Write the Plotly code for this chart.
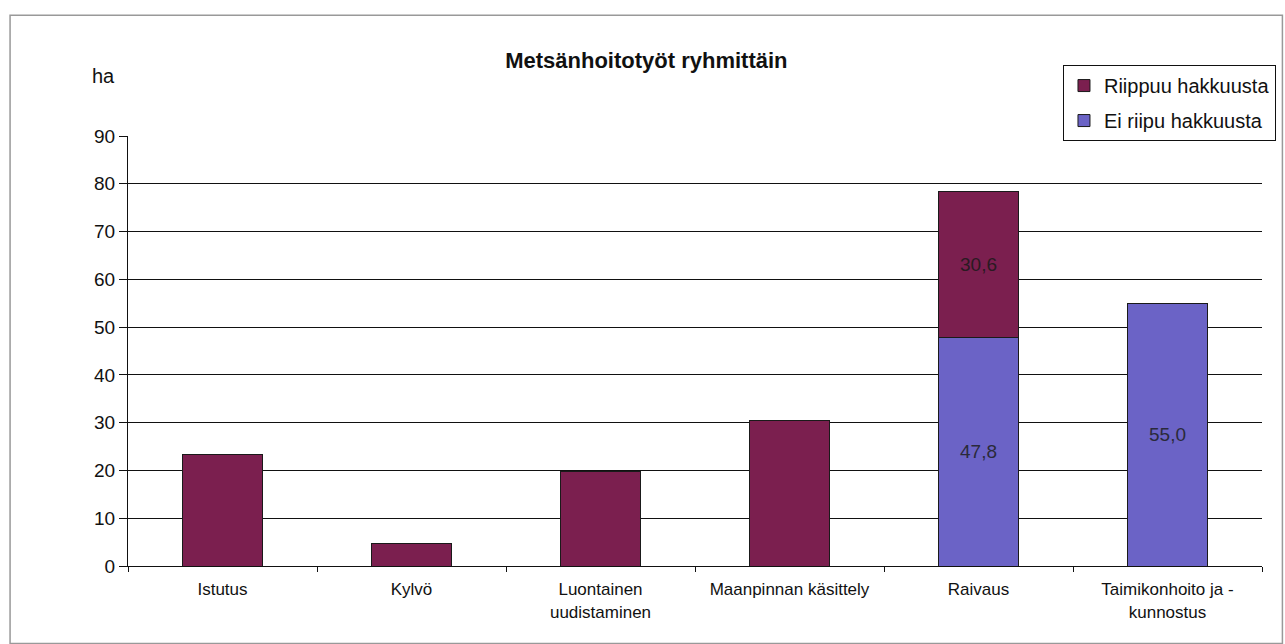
import plotly.graph_objects as go

categories = ["Istutus", "Kylvö", "Luontainen<br>uudistaminen", "Maanpinnan käsittely",
              "Raivaus", "Taimikonhoito ja -<br>kunnostus"]
ei_riipu = [0, 0, 0, 0, 47.8, 55.0]
riippuu = [23.3, 4.8, 19.8, 30.5, 30.6, 0]
y_ticks = [0, 10, 20, 30, 40, 50, 60, 70, 80, 90]

FONT = "Liberation Sans, Arial, sans-serif"

def labels(vals, flags):
    return [f"{v:.1f}".replace(".", ",") if (f and v > 0) else "" for v, f in zip(vals, flags)]

fig = go.Figure()
fig.add_trace(go.Bar(
    x=categories, y=ei_riipu, name="Ei riipu hakkuusta", legendgroup="ei", legendrank=2,
    marker=dict(color="#6b63c6", line=dict(color="#1a1a1a", width=1)),
    text=labels(ei_riipu, [False, False, False, False, True, True]),
    textposition="inside", insidetextanchor="middle",
    textfont=dict(family=FONT, size=19, color="#2a2a3a"),
))
fig.add_trace(go.Bar(
    x=categories, y=riippuu, name="Riippuu hakkuusta", legendgroup="riippuu", legendrank=1,
    marker=dict(color="#7b1f4f", line=dict(color="#1a1a1a", width=1)),
    text=labels(riippuu, [False, False, False, False, True, False]),
    textposition="inside", insidetextanchor="middle",
    textfont=dict(family=FONT, size=19, color="#2a1a22"),
))

fig.update_layout(
    width=1285, height=644,
    barmode="stack", bargap=0.58,
    separators=", ",
    plot_bgcolor="white", paper_bgcolor="white",
    margin=dict(l=128, r=23, t=136, b=78, autoexpand=False),
    font=dict(family=FONT, size=14, color="#111"),
    title=dict(text="<b>Metsänhoitotyöt ryhmittäin</b>", x=0.503, xanchor="center",
               y=0.907, yanchor="middle", font=dict(family=FONT, size=22, color="#111")),
    showlegend=True,
    legend=dict(x=0.8245, y=1.165, xanchor="left", yanchor="top",
                bordercolor="#111", borderwidth=1, bgcolor="white",
                font=dict(family=FONT, size=20, color="#111"),
                traceorder="grouped", tracegroupgap=6, itemwidth=30),
    xaxis=dict(showline=True, linecolor="#111", linewidth=1, ticks="outside",
               tickson="boundaries", ticklen=5, tickcolor="#111", ticklabelstandoff=8,
               tickfont=dict(family=FONT, size=17, color="#111"), showgrid=False),
    yaxis=dict(range=[0, 90], tickvals=y_ticks, showline=True, linecolor="#111",
               linewidth=1, ticks="outside", ticklen=8, tickcolor="#111",
               showgrid=True, gridcolor="#111", gridwidth=1,
               tickfont=dict(family=FONT, size=19, color="#111"), zeroline=False),
    annotations=[dict(text="ha", xref="paper", yref="paper", x=-0.01, y=1.14,
                      xanchor="right", yanchor="middle", showarrow=False,
                      font=dict(family=FONT, size=20, color="#111"))],
    shapes=[dict(type="rect", xref="paper", yref="paper",
                 x0=-0.104, x1=1.018, y0=-0.18, y1=1.281,
                 line=dict(color="#999", width=1.5), layer="below")],
)

fig.write_html("out.html")
